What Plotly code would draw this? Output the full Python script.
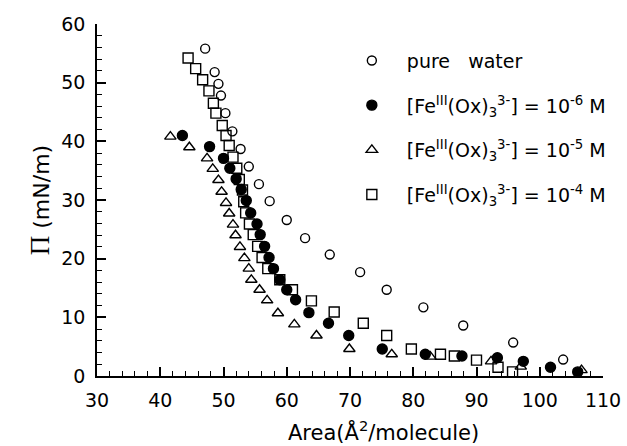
import plotly.graph_objects as go

# Pure water (open circles)
water_x = [47.1, 48.6, 49.2, 49.6, 50.3, 51.4, 52.7, 54.0, 55.6, 57.3, 60.0, 62.9, 66.8, 71.6, 75.8, 81.6, 87.9, 95.8, 103.7]
water_y = [55.8, 51.8, 49.8, 47.8, 44.8, 41.7, 38.7, 35.7, 32.7, 29.8, 26.6, 23.5, 20.7, 17.7, 14.7, 11.7, 8.6, 5.7, 2.8]

# [Fe(Ox)3]3- = 1e-6 M (filled circles)
m6_x = [43.5, 47.8, 50.0, 51.0, 52.0, 52.8, 53.6, 54.3, 55.3, 55.8, 56.5, 57.2, 57.9, 58.9, 60.0, 61.4, 63.5, 66.6, 69.8, 75.1, 81.9, 87.7, 93.3, 97.4, 101.7, 106.0]
m6_y = [41.0, 39.1, 37.1, 35.4, 33.6, 31.8, 29.9, 27.8, 25.9, 24.1, 22.1, 20.2, 18.3, 16.4, 14.7, 13.0, 10.8, 9.0, 6.9, 4.6, 3.7, 3.4, 3.1, 2.5, 1.5, 0.7]

# 1e-5 M (open triangles)
m5_x = [41.6, 44.6, 47.4, 48.3, 49.2, 49.7, 50.4, 50.9, 51.5, 51.9, 52.6, 53.3, 54.0, 54.4, 55.7, 56.9, 58.6, 61.2, 64.7, 69.9, 76.6, 82.7, 92.3, 97.0, 106.6]
m5_y = [40.8, 39.0, 37.1, 35.3, 33.4, 31.4, 29.5, 27.7, 25.8, 24.0, 22.0, 20.1, 18.3, 16.4, 14.7, 12.9, 10.7, 8.8, 6.9, 4.6, 3.7, 3.3, 2.5, 1.6, 1.0]

# 1e-4 M (open squares)
m4_x = [44.4, 45.6, 46.7, 47.7, 48.4, 48.8, 49.8, 50.4, 50.9, 51.5, 52.1, 52.5, 53.0, 53.2, 53.5, 54.1, 54.7, 55.4, 56.1, 57.0, 58.9, 60.9, 63.9, 67.5, 72.1, 75.8, 79.7, 84.3, 86.5, 90.0, 93.4, 95.7]
m4_y = [54.2, 52.4, 50.5, 48.6, 46.5, 44.8, 42.7, 41.0, 39.3, 37.3, 35.4, 33.5, 31.7, 29.7, 27.8, 25.9, 24.1, 22.1, 20.2, 18.3, 16.4, 14.7, 12.8, 10.9, 9.0, 6.9, 4.6, 3.7, 3.4, 2.7, 1.5, 0.7]

names = [
    "pure\u00a0\u00a0 water",
    "[Fe<sup>III</sup>(Ox)<sub>3</sub><sup>3-</sup>] = 10<sup>-6</sup> M",
    "[Fe<sup>III</sup>(Ox)<sub>3</sub><sup>3-</sup>] = 10<sup>-5</sup> M",
    "[Fe<sup>III</sup>(Ox)<sub>3</sub><sup>3-</sup>] = 10<sup>-4</sup> M",
]

x_title = "Area(Å<sup>2</sup>/molecule)"
y_title = "<span style='font-family:Liberation Serif;font-size:27px'>Π</span> (mN/m)"

series = [(water_x, water_y), (m6_x, m6_y), (m5_x, m5_y), (m4_x, m4_y)]
symbols = ["circle-open", "circle", "triangle-up-open", "square-open"]
sizes = [9, 10, 10, 10]

FONT = "DejaVu Sans, Verdana, sans-serif"

fig = go.Figure()
for i, ((xs, ys), sym, sz, nm) in enumerate(zip(series, symbols, sizes, names)):
    fig.add_trace(go.Scatter(
        x=xs, y=ys, mode="markers", name=nm, legendgroup=str(i),
        marker=dict(symbol=sym, size=sz, color="black",
                    line=dict(color="black", width=1.4)),
    ))

axis_common = dict(
    showgrid=False, zeroline=False, showline=True, linecolor="black", linewidth=1.5,
    ticks="inside", ticklen=9, tickwidth=1.5, tickcolor="black",
    tickfont=dict(family=FONT, size=19, color="black"),
    minor=dict(ticks="inside", ticklen=5, tickwidth=1.2, tickcolor="black", dtick=2),
    automargin=False,
)

fig.update_xaxes(range=[30, 110], dtick=10, tick0=30, ticklabelstandoff=6, **axis_common)
fig.update_yaxes(range=[0, 60], dtick=10, tick0=0, ticklabelstandoff=6,
                 title=dict(text=y_title, font=dict(family=FONT, size=22, color="black"), standoff=6),
                 **axis_common)

fig.add_annotation(text=x_title, xref="paper", yref="paper", x=0.567, y=0,
                   yshift=-55, xanchor="center", yanchor="middle", showarrow=False,
                   font=dict(family=FONT, size=21, color="black"))

fig.update_layout(
    width=627, height=446,
    margin=dict(l=97, r=24, t=24, b=70),
    paper_bgcolor="white", plot_bgcolor="white",
    legend=dict(x=0.474, y=0.95, xanchor="left", yanchor="top",
                font=dict(family=FONT, size=19, color="black"),
                itemwidth=60, tracegroupgap=17, bgcolor="rgba(0,0,0,0)",
                itemsizing="trace"),
    showlegend=True,
)

fig.write_html("out.html")
